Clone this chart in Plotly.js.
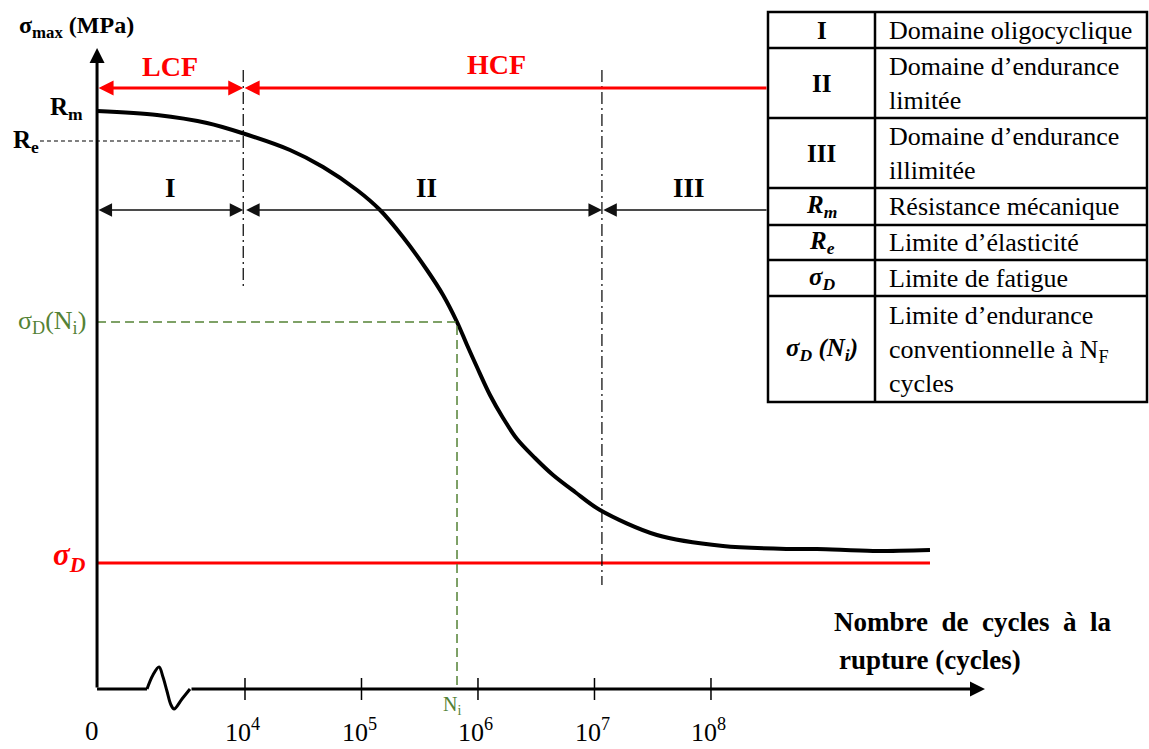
<!DOCTYPE html>
<html><head><meta charset="utf-8">
<script src="https://cdn.plot.ly/plotly-3.0.1.min.js"></script>
<style>html,body{margin:0;padding:0;background:#fff}</style>
</head><body><div id="chart" style="width:1149px;height:749px"></div>
<script>
// ---------------- data (x = log10 N, y = stress, schematic units) ----------------
const curveLogN   = [2.730, 3.245, 3.674, 3.974, 4.386, 4.670, 4.961, 5.159, 5.356, 5.562, 5.700, 5.820, 5.906, 5.991, 6.103, 6.215, 6.335, 6.489, 6.644, 6.833, 7.047, 7.536, 8.103, 8.678, 8.910, 9.391, 9.880];
const curveStress = [578,   574,   566,   556,   539,   522,   499,   479,   452,   419,   394,   367,   344,   322,   294,   271,   250,   231,   214,   197,   179,   154,   143,   140,   140,   138,   139];
const tickExponents = [4, 5, 6, 7, 8];
const tickLabels = ['10<sup>4</sup>', '10<sup>5</sup>', '10<sup>6</sup>', '10<sup>7</sup>', '10<sup>8</sup>'];
const originLabel = '0';
const Rm = 578, Re = 548, sigmaDNi = 367, sigmaD = 126;
const logNi = 5.82;
const logN_LCF_HCF = 3.985;   // boundary I / II
const logN_II_III = 7.064;    // boundary II / III
const breakLogN = [3.159, 3.210, 3.262, 3.296, 3.330, 3.365, 3.391, 3.459, 3.528];
const breakY    = [0, 14, 22, 12, -2, -16, -20, -10, 0];
const tableSymbols = ['<b>I</b>', '<b>II</b>', '<b>III</b>', '<b><i>R<sub>m</sub></i></b>', '<b><i>R<sub>e</sub></i></b>', '<b><i>σ<sub>D</sub></i></b>', '<b><i>σ<sub>D</sub> (N<sub>i</sub>)</i></b>'];
const tableDescriptions = ['Domaine oligocyclique', 'Domaine d’endurance<br>limitée', 'Domaine d’endurance<br>illimitée', 'Résistance mécanique', 'Limite d’élasticité', 'Limite de fatigue', 'Limite d’endurance<br>conventionnelle à N<sub>F</sub><br>cycles'];

// ---------------- layout geometry ----------------
const W = 1149, H = 749;
const X0 = 1.897, X1 = 11.760, Y0 = -60, Y1 = 689;
const xOrigin = 2.730, yAxisTop = 641, xAxisEnd = 10.352;
const yRed = 601, yBlack = 479;
const reLineStart = 2.240;
const dashTop = 619, dash1Bottom = 401, dash2Bottom = 104;
const tblX = [768, 875, 1147];
const tblY = [12, 48, 118, 188, 225, 260, 296, 402];
const xTableLeft = X0 + tblX[0] / W * (X1 - X0);
const px = v => v / W, py = v => 1 - v / H;

const SERIF = 'Liberation Serif, Times New Roman, serif';
const GREEN = '#548235', RED = '#ff0000';

const traces = [];
traces.push({x: curveLogN, y: curveStress, mode: 'lines', line: {color: '#000', width: 4, shape: 'spline', smoothing: 0.9}, hoverinfo: 'skip'});
traces.push({x: [xOrigin, curveLogN[curveLogN.length - 1]], y: [sigmaD, sigmaD], mode: 'lines', line: {color: RED, width: 3}, hoverinfo: 'skip'});
traces.push({x: [reLineStart, logN_LCF_HCF], y: [Re, Re], mode: 'lines', line: {color: '#000', width: 1.2, dash: '4px,3px'}, hoverinfo: 'skip'});
traces.push({x: [xOrigin, logNi, logNi], y: [sigmaDNi, sigmaDNi, 0], mode: 'lines', line: {color: GREEN, width: 1.5, dash: '9px,5px'}, hoverinfo: 'skip'});
traces.push({x: [logN_LCF_HCF, logN_LCF_HCF, null, logN_II_III, logN_II_III], y: [dashTop, dash1Bottom, null, dashTop, dash2Bottom], mode: 'lines', line: {color: '#000', width: 1.2, dash: '12px,4px,2px,4px'}, hoverinfo: 'skip'});
traces.push({x: [xOrigin, breakLogN[0]], y: [0, 0], mode: 'lines', line: {color: '#000', width: 3}, hoverinfo: 'skip'});
traces.push({x: breakLogN, y: breakY, mode: 'lines', line: {color: '#000', width: 3, shape: 'spline', smoothing: 1}, hoverinfo: 'skip'});
const tx = [], ty = [];
tickExponents.forEach(t => { tx.push(t, t, null); ty.push(-11, 11, null); });
traces.push({x: tx, y: ty, mode: 'lines', line: {color: '#000', width: 1.5}, hoverinfo: 'skip'});

const ann = [];
const arrow = (x, y, ax, ay, color, width, size, both) => ({
  x, y, ax, ay, xref: 'x', yref: 'y', axref: 'x', ayref: 'y', text: '', showarrow: true,
  arrowhead: 2, startarrowhead: 2, arrowsize: size, startarrowsize: size, arrowwidth: width,
  arrowcolor: color, arrowside: both ? 'end+start' : 'end', standoff: 0, startstandoff: 0
});
ann.push(arrow(xOrigin, yAxisTop, xOrigin, 0, '#000', 3, 1, false));
ann.push(arrow(xAxisEnd, 0, breakLogN[breakLogN.length - 1], 0, '#000', 3, 1, false));
ann.push(arrow(logN_LCF_HCF, yRed, xOrigin, yRed, RED, 3, 1, true));
ann.push(arrow(logN_LCF_HCF + 0.012, yRed, xTableLeft, yRed, RED, 3, 1, false));
ann.push(arrow(logN_LCF_HCF, yBlack, xOrigin, yBlack, '#111', 1.5, 1.8, true));
ann.push(arrow(logN_II_III, yBlack, logN_LCF_HCF + 0.012, yBlack, '#111', 1.5, 1.8, true));
ann.push(arrow(logN_II_III + 0.012, yBlack, xTableLeft, yBlack, '#111', 1.5, 1.8, false));

const txt = (text, x, y, o) => Object.assign({text, x, y, xref: 'x', yref: 'y', showarrow: false, font: {family: SERIF, size: 24, color: '#000'}}, o);
const f = (size, color) => ({family: SERIF, size, color: color || '#000'});
ann.push(txt('<b>σ<sub>max</sub> (MPa)</b>', xOrigin, yAxisTop, {xanchor: 'right', yanchor: 'middle', xshift: 39, yshift: 21, font: f(24)}));
ann.push(txt('<b>R<sub>m</sub></b>', xOrigin, Rm, {xanchor: 'right', yanchor: 'middle', xshift: -12, yshift: 3, font: f(25)}));
ann.push(txt('<b>R<sub>e</sub></b>', xOrigin, Re, {xanchor: 'right', yanchor: 'middle', xshift: -56, yshift: 0, font: f(25)}));
ann.push(txt('σ<sub>D</sub>(N<sub>i</sub>)', xOrigin, sigmaDNi, {xanchor: 'right', yanchor: 'middle', xshift: -9, font: f(26, GREEN)}));
ann.push(txt('<b><i>σ<sub>D</sub></i></b>', xOrigin, sigmaD, {xanchor: 'right', yanchor: 'middle', xshift: -9, yshift: 6, font: f(31, RED)}));
ann.push(txt('<b>LCF</b>', (xOrigin + logN_LCF_HCF) / 2, yRed, {yanchor: 'middle', yshift: 22, font: f(28, RED)}));
ann.push(txt('<b>HCF</b>', (logN_LCF_HCF + xTableLeft) / 2, yRed, {yanchor: 'middle', yshift: 24, xshift: -9, font: f(28, RED)}));
ann.push(txt('<b>I</b>', (xOrigin + logN_LCF_HCF) / 2, yBlack, {yanchor: 'middle', yshift: 22, font: f(27)}));
ann.push(txt('<b>II</b>', (logN_LCF_HCF + logN_II_III) / 2, yBlack, {yanchor: 'middle', yshift: 22, xshift: 4, font: f(27)}));
ann.push(txt('<b>III</b>', (logN_II_III + xTableLeft) / 2, yBlack, {yanchor: 'middle', yshift: 22, xshift: 4, font: f(27)}));
ann.push(txt(originLabel, xOrigin, 0, {yanchor: 'top', yshift: -25, xshift: -5, font: f(27)}));
tickExponents.forEach((t, i) => ann.push(txt(tickLabels[i], t, 0, {yanchor: 'top', yshift: -23, xshift: -2, font: f(26)})));
ann.push(txt('N<sub>i</sub>', logNi, 0, {yanchor: 'top', yshift: -2, xshift: -5, font: f(20, GREEN)}));
ann.push(txt('<b>Nombre&nbsp;&nbsp;de&nbsp;&nbsp;cycles&nbsp;&nbsp;à&nbsp;&nbsp;la</b>', xAxisEnd, 0, {xanchor: 'right', yanchor: 'middle', xshift: 128, yshift: 67, font: f(27)}));
ann.push(txt('<b>rupture (cycles)</b>', xAxisEnd, 0, {xanchor: 'left', yanchor: 'middle', xshift: -148, yshift: 29, font: f(27)}));

const shapes = [];
const L = {color: '#000', width: 2.5};
shapes.push({type: 'rect', xref: 'paper', yref: 'paper', x0: px(tblX[0]), x1: px(tblX[2]), y0: py(tblY[0]), y1: py(tblY[tblY.length - 1]), line: L});
shapes.push({type: 'line', xref: 'paper', yref: 'paper', x0: px(tblX[1]), x1: px(tblX[1]), y0: py(tblY[0]), y1: py(tblY[tblY.length - 1]), line: L});
for (let i = 1; i < tblY.length - 1; i++) {
  shapes.push({type: 'line', xref: 'paper', yref: 'paper', x0: px(tblX[0]), x1: px(tblX[2]), y0: py(tblY[i]), y1: py(tblY[i]), line: L});
}
for (let i = 0; i < tableSymbols.length; i++) {
  const yc = py((tblY[i] + tblY[i + 1]) / 2);
  ann.push({text: tableSymbols[i], xref: 'paper', yref: 'paper', x: px((tblX[0] + tblX[1]) / 2), y: yc, xanchor: 'center', yanchor: 'middle', showarrow: false, font: f(25)});
  ann.push({text: tableDescriptions[i], xref: 'paper', yref: 'paper', x: px(tblX[1] + 12), y: yc, xanchor: 'left', yanchor: 'middle', align: 'left', showarrow: false, font: f(26)});
}

const layout = {
  width: W, height: H, margin: {l: 0, r: 0, t: 0, b: 0},
  paper_bgcolor: '#fff', plot_bgcolor: '#fff', showlegend: false,
  xaxis: {range: [X0, X1], visible: false, fixedrange: true},
  yaxis: {range: [Y0, Y1], visible: false, fixedrange: true},
  annotations: ann, shapes: shapes
};
Plotly.newPlot('chart', traces, layout, {staticPlot: true, displayModeBar: false});
</script>
</body></html>
